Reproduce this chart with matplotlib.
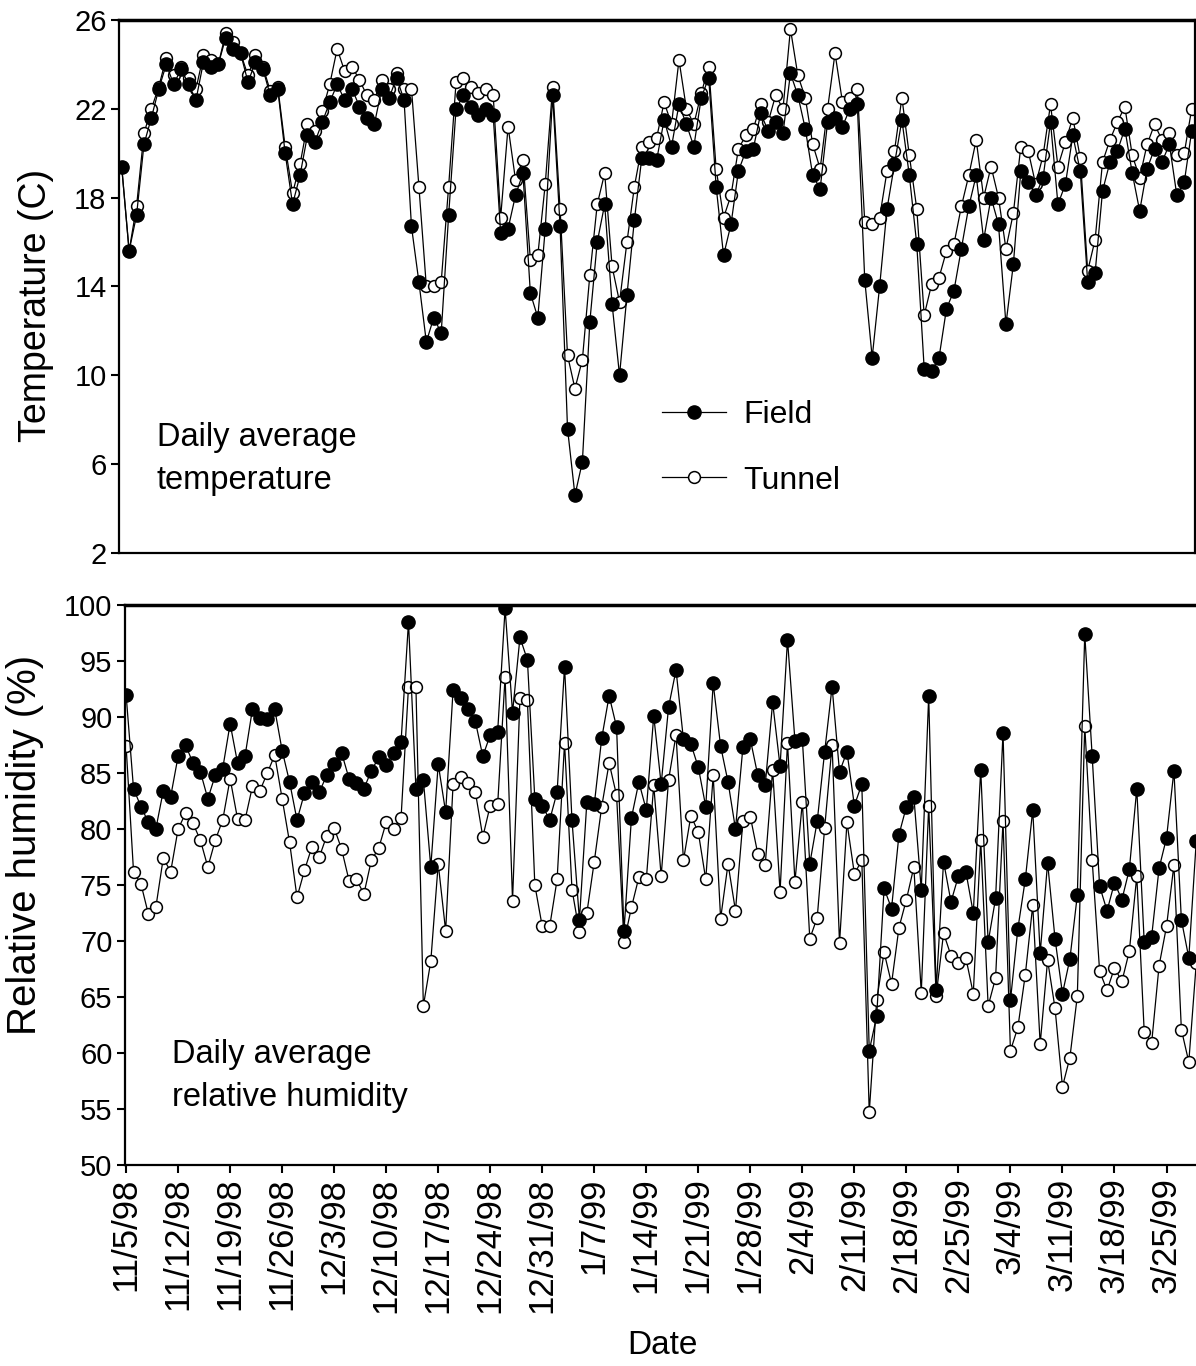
# Daily average temperature / relative humidity, Field vs Tunnel
import matplotlib
matplotlib.use('Agg')
import matplotlib.pyplot as plt

plt.rcParams['font.family'] = ['Liberation Sans', 'DejaVu Sans']

# day index 0 = 11/5/98 ... 144 = 3/29/99
days = list(range(145))

temp_field = [
    19.4, 15.6, 17.2, 20.4, 21.6, 22.9, 24.0, 23.1, 23.8, 23.1,
    22.4, 24.1, 23.9, 24.0, 25.2, 24.7, 24.5, 23.2, 24.1, 23.8,
    22.6, 22.9, 20.0, 17.7, 19.0, 20.8, 20.5, 21.4, 22.3, 23.1,
    22.4, 22.9, 22.1, 21.6, 21.3, 22.9, 22.5, 23.4, 22.4, 16.7,
    14.2, 11.5, 12.6, 11.9, 17.2, 22.0, 22.6, 22.1, 21.7, 22.0,
    21.7, 16.4, 16.6, 18.1, 19.1, 13.7, 12.6, 16.6, 22.6, 16.7,
    7.6, 4.6, 6.1, 12.4, 16.0, 17.7, 13.2, 10.0, 13.6, 17.0,
    19.8, 19.8, 19.7, 21.5, 20.3, 22.2, 21.3, 20.3, 22.5, 23.4,
    18.5, 15.4, 16.8, 19.2, 20.1, 20.2, 21.8, 21.0, 21.4, 20.9,
    23.6, 22.6, 21.1, 19.0, 18.4, 21.4, 21.6, 21.2, 22.0, 22.2,
    14.3, 10.8, 14.0, 17.5, 19.5, 21.5, 19.0, 15.9, 10.3, 10.2,
    10.8, 13.0, 13.8, 15.7, 17.6, 19.0, 16.1, 18.0, 16.8, 12.3,
    15.0, 19.2, 18.7, 18.1, 18.9, 21.4, 17.7, 18.6, 20.8, 19.2,
    14.2, 14.6, 18.3, 19.6, 20.1, 21.1, 19.1, 17.4, 19.3, 20.2,
    19.6, 20.4, 18.1, 18.7, 21.0]

temp_tunnel = [
    19.4, 15.6, 17.6, 20.9, 22.0, 23.0, 24.3, 23.5, 23.9, 23.4,
    22.9, 24.4, 24.2, 24.0, 25.4, 25.0, 24.5, 23.5, 24.4, 23.9,
    22.8, 23.0, 20.3, 18.2, 19.5, 21.3, 21.0, 21.9, 23.1, 24.7,
    23.7, 23.9, 23.3, 22.6, 22.4, 23.3, 22.9, 23.6, 22.9, 22.9,
    18.5, 14.0, 14.0, 14.2, 18.5, 23.2, 23.4, 23.0, 22.7, 22.9,
    22.6, 17.1, 21.2, 18.8, 19.7, 15.2, 15.4, 18.6, 23.0, 17.5,
    10.9, 9.4, 10.7, 14.5, 17.7, 19.1, 14.9, 13.3, 16.0, 18.5,
    20.3, 20.5, 20.7, 22.3, 21.3, 24.2, 22.0, 21.3, 22.7, 23.9,
    19.3, 17.1, 18.1, 20.2, 20.8, 21.1, 22.2, 21.4, 22.6, 22.0,
    25.6, 23.5, 22.5, 20.4, 19.3, 22.0, 24.5, 22.3, 22.5, 22.9,
    16.9, 16.8, 17.1, 19.2, 20.1, 22.5, 19.9, 17.5, 12.7, 14.1,
    14.4, 15.6, 15.9, 17.6, 19.0, 20.6, 18.0, 19.4, 18.0, 15.7,
    17.3, 20.3, 20.1, 18.6, 19.9, 22.2, 19.4, 20.5, 21.6, 19.8,
    14.7, 16.1, 19.6, 20.6, 21.4, 22.1, 19.9, 18.9, 20.4, 21.3,
    20.6, 20.9, 19.9, 20.0, 22.0]

rh_field = [
    92.0, 83.6, 82.0, 80.6, 80.0, 83.4, 82.9, 86.5, 87.5, 85.9,
    85.1, 82.7, 84.8, 85.4, 89.4, 85.9, 86.5, 90.7, 89.9, 89.8,
    90.7, 87.0, 84.2, 80.8, 83.2, 84.2, 83.3, 84.8, 85.8, 86.8,
    84.5, 84.1, 83.6, 85.2, 86.4, 85.7, 86.8, 87.8, 98.5, 83.6,
    84.4, 76.6, 85.8, 81.5, 92.4, 91.7, 90.7, 89.6, 86.5, 88.4,
    88.7, 99.7, 90.4, 97.1, 95.1, 82.7, 82.1, 80.8, 83.3, 94.5,
    80.8, 71.9, 82.4, 82.2, 88.1, 91.9, 89.1, 70.9, 81.0, 84.2,
    81.7, 90.1, 84.0, 90.9, 94.2, 88.0, 87.6, 85.5, 82.0, 93.0,
    87.4, 84.2, 80.0, 87.3, 88.0, 84.8, 83.9, 91.3, 85.6, 96.9,
    87.9, 88.0, 76.9, 80.7, 86.9, 92.7, 85.1, 86.9, 82.1, 84.0,
    60.2, 63.3, 74.7, 72.9, 79.5, 82.0, 82.9, 74.6, 91.9, 65.6,
    77.1, 73.5, 75.8, 76.2, 72.5, 85.3, 69.9, 73.8, 88.6, 64.7,
    71.1, 75.5, 81.7, 68.9, 77.0, 70.2, 65.3, 68.4, 74.1, 97.4,
    86.5, 74.9, 72.7, 75.2, 73.7, 76.4, 83.6, 69.9, 70.4, 76.5,
    79.2, 85.2, 71.9, 68.5, 78.9]

rh_tunnel = [
    87.4, 76.2, 75.1, 72.4, 73.0, 77.4, 76.2, 80.0, 81.4, 80.5,
    79.0, 76.6, 79.0, 80.8, 84.5, 80.9, 80.8, 83.8, 83.4, 85.0,
    86.6, 82.7, 78.8, 73.9, 76.3, 78.4, 77.5, 79.4, 80.1, 78.2,
    75.4, 75.5, 74.2, 77.2, 78.3, 80.6, 80.0, 81.0, 92.7, 92.7,
    64.2, 68.2, 76.9, 70.9, 84.0, 84.6, 84.1, 83.3, 79.3, 82.1,
    82.2, 93.6, 73.6, 91.7, 91.5, 75.0, 71.3, 71.3, 75.5, 87.7,
    74.6, 70.8, 72.5, 77.1, 82.0, 85.9, 83.0, 69.9, 73.0, 75.7,
    75.5, 83.9, 75.8, 84.4, 88.4, 77.2, 81.2, 79.7, 75.5, 84.8,
    72.0, 76.9, 72.7, 80.7, 81.1, 77.8, 76.8, 85.3, 74.4, 87.7,
    75.3, 82.4, 70.2, 72.1, 80.1, 87.5, 69.8, 80.6, 76.0, 77.2,
    54.7, 64.7, 69.0, 66.2, 71.2, 73.7, 76.6, 65.4, 82.1, 65.1,
    70.7, 68.7, 68.0, 68.5, 65.3, 79.0, 64.2, 66.7, 80.7, 60.2,
    62.3, 67.0, 73.2, 60.8, 68.3, 64.0, 57.0, 59.6, 65.1, 89.2,
    77.2, 67.3, 65.6, 67.6, 66.4, 69.1, 75.8, 61.9, 60.9, 67.8,
    71.3, 76.8, 62.1, 59.2, 68.0]

tick_days = [0, 7, 14, 21, 28, 35, 42, 49, 56, 63, 70, 77, 84, 91, 98,
             105, 112, 119, 126, 133, 140]
tick_labels = ['11/5/98', '11/12/98', '11/19/98', '11/26/98', '12/3/98',
               '12/10/98', '12/17/98', '12/24/98', '12/31/98', '1/7/99',
               '1/14/99', '1/21/99', '1/28/99', '2/4/99', '2/11/99',
               '2/18/99', '2/25/99', '3/4/99', '3/11/99', '3/18/99',
               '3/25/99']

fig = plt.figure(figsize=(11.96, 13.66), dpi=100)
ax1 = fig.add_axes([0.0995, 0.5952, 0.8997, 0.3902])
ax2 = fig.add_axes([0.1045, 0.1471, 0.8988, 0.4100])

open_style = dict(color='black', lw=0.9, marker='o', ms=8.5,
                  mfc='white', mec='black', mew=1.1)
fill_style = dict(color='black', lw=0.9, marker='o', ms=9.5,
                  mfc='black', mec='black')

# 溫度
ax1.plot(days, temp_tunnel, label='Tunnel', zorder=2, **open_style)
ax1.plot(days, temp_field, label='Field', zorder=3, **fill_style)
ax1.set_xlim(-0.36, 144.45)
ax1.set_ylim(2, 26)
ax1.set_yticks([2, 6, 10, 14, 18, 22, 26])
ax1.set_xticks([])
ax1.set_ylabel('Temperature (C)', fontsize=27)
ax1.yaxis.set_label_coords(-0.06, 0.465)
ax1.text(0.035, 0.245, 'Daily average\ntemperature', transform=ax1.transAxes,
         fontsize=23.5, va='top', ha='left', linespacing=1.5)
h, l = ax1.get_legend_handles_labels()
ax1.legend(h[::-1], l[::-1], loc='upper left', bbox_to_anchor=(0.478, 0.34),
           frameon=False, fontsize=23, handlelength=2.0, handletextpad=0.55,
           labelspacing=1.1)

# 濕度
ax2.plot(days, rh_tunnel, zorder=2, **open_style)
ax2.plot(days, rh_field, zorder=3, **fill_style)
ax2.set_xlim(-0.15, 144.5)
ax2.set_ylim(50, 100)
ax2.set_yticks(range(50, 101, 5))
ax2.set_xticks(tick_days)
ax2.set_xticklabels(tick_labels, rotation=90, fontsize=25)
ax2.set_ylabel('Relative humidity (%)', fontsize=29)
ax2.yaxis.set_label_coords(-0.075, 0.571)
ax2.set_xlabel('Date', fontsize=24, labelpad=12)
ax2.text(0.044, 0.225, 'Daily average\nrelative humidity', transform=ax2.transAxes,
         fontsize=23.5, va='top', ha='left', linespacing=1.5)

for ax in (ax1, ax2):
    for s in ax.spines.values():
        s.set_linewidth(1.6)
    ax.spines['top'].set_linewidth(2.5)
    ax.tick_params(axis='both', direction='out', length=6, width=1.5, pad=3)
    ax.tick_params(axis='y', labelsize=21)

fig.savefig('out.png', dpi=100)
